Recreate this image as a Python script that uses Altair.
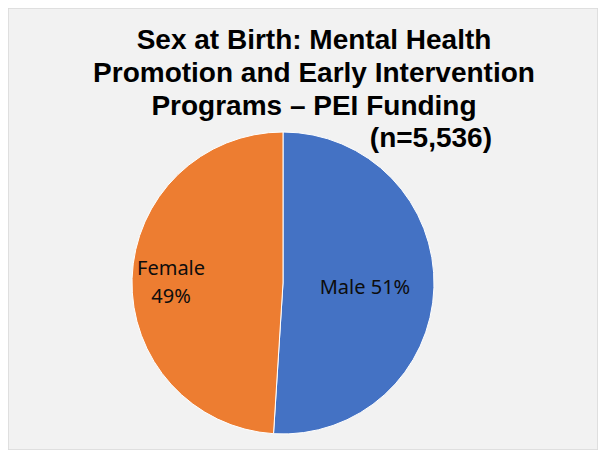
import altair as alt
import pandas as pd

categories = ["Male", "Female"]
values = [51, 49]
label_line1 = ["Male 51%", "Female"]
label_line2 = ["", "49%"]
title_lines = ["Sex at Birth: Mental Health",
               "Promotion and Early Intervention",
               "Programs \u2013 PEI Funding"]
subtitle_line = ["(n=5,536)"]
colors = ["#4472C4", "#ED7D31"]

df = pd.DataFrame({"category": categories, "value": values,
                   "l1": label_line1, "l2": label_line2,
                   "order": list(range(len(categories)))})

CX, CY, R = 275, 275, 151

base = alt.Chart(df).encode(
    theta=alt.Theta("value:Q", stack=True),
    order=alt.Order("order:Q"),
    x=alt.value(CX), y=alt.value(CY),
)

pie = base.mark_arc(outerRadius=R, stroke="white", strokeWidth=1).encode(
    color=alt.Color("category:N", scale=alt.Scale(domain=categories, range=colors), legend=None)
)

lbl_font = "Noto Sans"
LFS = 20
male_lbl = base.transform_calculate(
    txt="datum.category == 'Male' ? datum.l1 : ''"
).mark_text(
    radius=82, font=lbl_font, fontSize=LFS, color="#0d0d0d", baseline="alphabetic", dy=8
).encode(text="txt:N")

fem_lbl1 = base.transform_calculate(
    txt="datum.category == 'Female' ? datum.l1 : ''"
).mark_text(
    radius=112, font=lbl_font, fontSize=LFS, color="#0d0d0d", baseline="alphabetic", dy=-4
).encode(text="txt:N")
fem_lbl2 = base.transform_calculate(
    txt="datum.category == 'Female' ? datum.l2 : ''"
).mark_text(
    radius=112, font=lbl_font, fontSize=LFS, color="#0d0d0d", baseline="alphabetic", dy=24
).encode(text="txt:N")

tdf = pd.DataFrame({"t": title_lines, "i": list(range(len(title_lines)))})
title = alt.Chart(tdf).mark_text(
    font="Liberation Sans", fontSize=28, fontWeight="bold", color="#000000",
    align="center", baseline="alphabetic"
).encode(
    text="t:N",
    x=alt.value(306),
    y=alt.Y("i:Q", scale=alt.Scale(domain=[0, 2], range=[41, 107]), axis=None),
)

sdf = pd.DataFrame({"t": subtitle_line})
sub = alt.Chart(sdf).mark_text(
    font="Liberation Sans", fontSize=28, fontWeight="bold", color="#000000",
    align="right", baseline="alphabetic"
).encode(text="t:N", x=alt.value(484), y=alt.value(139))

chart = alt.layer(pie, male_lbl, fem_lbl1, fem_lbl2, title, sub).properties(
    width=590, height=442,
    autosize=alt.AutoSizeParams(type="fit", contains="padding"),
    padding=0,
    background="#F2F2F2",
).configure_view(stroke="#D9D9D9", strokeWidth=1.5)

chart.save("out.html", embed_options={"renderer": "svg", "actions": False})
